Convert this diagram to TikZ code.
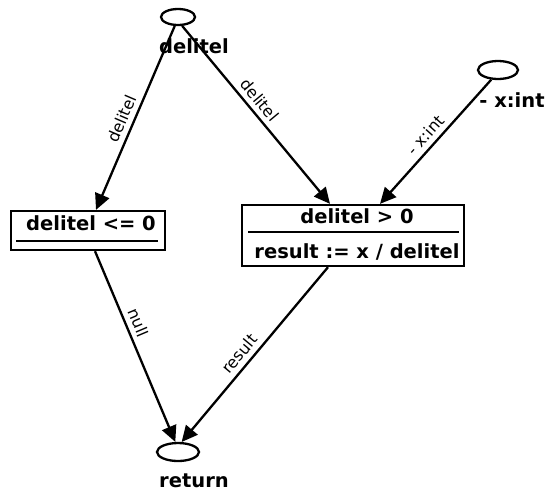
\documentclass[tikz,border=0pt]{standalone}
\usepackage{fontspec}
\setmainfont{DejaVu Sans}
\usetikzlibrary{shapes.geometric,arrows.meta,calc}
\begin{document}
\begin{tikzpicture}[x=1pt,y=-1pt,
  ell/.style={draw,ellipse,line width=2.3pt,inner sep=0pt},
  lbl/.style={font=\fontsize{19.5}{22}\selectfont\bfseries,inner sep=0pt},
  box/.style={draw,line width=2.3pt,inner sep=0pt},
  arr/.style={line width=2.3pt,-{Triangle[length=16pt,width=15pt]}},
  elbl/.style={font=\fontsize{16}{18}\selectfont,sloped,above,inner sep=5pt}]
\useasboundingbox (0,0) rectangle (545,491);
\node[ell,minimum width=34pt,minimum height=16pt] (e1) at (178,17) {};
\node[lbl] (l1) at (194,46) {delitel};
\node[ell,minimum width=40pt,minimum height=18pt] (e2) at (498,70) {};
\node[lbl] (l2) at (512,100) {- x:int};
\node[ell,minimum width=42pt,minimum height=18pt] (e3) at (178,452) {};
\node[lbl] (l3) at (194,481) {return};
\node[box,minimum width=154pt,minimum height=39pt] (lb) at (88,230.5) {};
\node[lbl] (lt) at (91,223) {delitel <= 0};
\draw[line width=2.3pt] (16,241) -- (158,241);
\node[box,minimum width=222pt,minimum height=61pt] (rb) at (353,235.5) {};
\node[lbl] (rt1) at (357,216) {delitel > 0};
\draw[line width=2.3pt] (248,232) -- (459,232);
\node[lbl] (rt2) at (357,252) {result := x / delitel};
\draw[arr] (e1.250) -- node[elbl,pos=.53] {delitel} ($(lb.north)+(8,0)$);
\draw[arr] (e1.295) -- node[elbl,pos=.46] {delitel} ($(rb.north)+(-23,0)$);
\draw[arr] (e2.235) -- node[elbl,pos=.51] {- x:int} ($(rb.north)+(27,0)$);
\draw[arr] ($(lb.south)+(7,0)$) -- node[elbl,pos=.40] {null} (e3.105);
\draw[arr] ($(rb.south)+(-25,0)$) -- node[elbl,pos=.54] {result} (e3.70);
\end{tikzpicture}
\end{document}
